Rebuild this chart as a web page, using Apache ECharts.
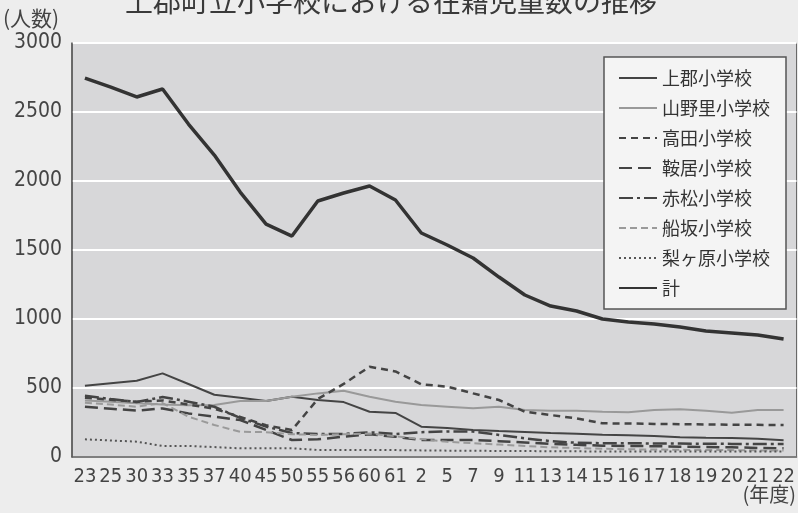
<!DOCTYPE html>
<html>
<head>
<meta charset="utf-8">
<script src="https://cdn.jsdelivr.net/npm/echarts@6/dist/echarts.min.js"></script>
<style>
  html, body { margin: 0; padding: 0; background: #ededed; }
  #chart { width: 798px; height: 513px; }
</style>
</head>
<body>
<div id="chart"></div>
<script>
const years = ['23','25','30','33','35','37','40','45','50','55','56','60','61','2','5','7','9','11','13','14','15','16','17','18','19','20','21','22']
const yTicks = [0, 500, 1000, 1500, 2000, 2500, 3000]

const kamigori = [516,535,553,606,529,451,430,406,437,413,398,328,319,220,210,196,188,181,174,169,162,157,152,143,140,138,133,121]
const yamanosato = [410,400,390,380,375,377,406,406,437,461,480,437,401,377,365,353,364,341,336,336,328,324,341,346,336,321,341,341]
const takada = [430,415,400,410,380,350,290,230,195,420,530,654,620,527,510,461,413,328,304,280,244,243,240,238,236,234,233,232]
const kurai = [364,350,336,352,316,292,268,196,123,128,147,164,147,123,123,123,115,105,95,88,82,80,78,75,72,70,66,63]
const akamatsu = [444,420,398,435,401,364,283,220,174,167,167,179,167,180,185,185,160,135,115,103,100,100,98,97,96,95,94,94]
const funasaka = [393,380,364,391,292,232,183,180,165,160,165,170,150,130,110,100,90,80,70,65,60,56,54,52,50,50,48,47]
const nashigahara = [128,120,111,80,80,72,63,63,63,51,51,51,50,48,46,45,44,43,42,41,40,40,40,40,40,39,39,39]
const total = [2746,2680,2609,2667,2413,2188,1920,1688,1601,1855,1913,1964,1862,1623,1536,1442,1304,1174,1094,1058,1000,978,964,942,913,899,884,855]

const narrow = "'Liberation Sans Narrow', 'DejaVu Sans Condensed', 'Noto Sans', sans-serif"
const jp = "'Noto Sans CJK JP', sans-serif"

const chart = echarts.init(document.getElementById('chart'))

// one helper for every school line
const makeLine = (name, data, color, width, type) => ({
  name,
  data,
  type: 'line',
  symbol: 'none',
  z: name === '計' ? 5 : 3,
  lineStyle: { color, width, type },
  itemStyle: { color },
})

const option = {
  backgroundColor: '#ededed',
  animation: false,
  title: {
    text: '上郡町立小学校における在籍児童数の推移',
    left: 120,
    top: -18,
    textStyle: { color: '#3a3a3a', fontSize: 28, fontWeight: 'normal', fontFamily: jp },
  },
  graphic: [
    {
      type: 'text',
      left: 3,
      top: 8,
      style: { text: '(人数)', fill: '#444', font: '21px ' + jp },
    },
    {
      type: 'text',
      right: 2,
      top: 484,
      style: { text: '(年度)', fill: '#444', font: '20px ' + jp },
    },
  ],
  legend: {
    orient: 'vertical',
    left: 604,
    top: 57,
    itemWidth: 38,
    itemHeight: 14,
    itemGap: 12,
    padding: [12, 16, 12, 14],
    backgroundColor: '#f4f4f4',
    borderColor: '#555',
    borderWidth: 1.5,
    itemStyle: { color: 'rgba(0,0,0,0)', borderWidth: 0, opacity: 0 },
    textStyle: { color: '#333', fontSize: 18, fontFamily: jp },
    data: ['上郡小学校', '山野里小学校', '高田小学校', '鞍居小学校', '赤松小学校', '船坂小学校', '梨ヶ原小学校', '計'],
  },
  grid: {
    left: 72,
    right: 0,
    top: 43,
    bottom: 56,
    show: true,
    backgroundColor: '#d7d7d9',
    borderColor: '#666',
    borderWidth: 1,
  },
  xAxis: {
    type: 'category',
    data: years,
    boundaryGap: true,
    axisLine: { lineStyle: { color: '#555', width: 1.5 } },
    axisTick: { inside: true, length: 7, lineStyle: { color: '#555' } },
    axisLabel: { color: '#444', fontSize: 20, fontFamily: narrow, margin: 10, interval: 0 },
  },
  yAxis: {
    type: 'value',
    min: yTicks[0],
    max: yTicks[yTicks.length - 1],
    interval: 500,
    axisLine: { show: true, lineStyle: { color: '#555', width: 1.5 } },
    axisTick: { show: false },
    axisLabel: { color: '#444', fontSize: 21, fontFamily: narrow, margin: 10, formatter: (v) => String(v) },
    splitLine: { lineStyle: { color: '#ffffff', width: 2 } },
  },
  series: [
    makeLine('上郡小学校', kamigori, '#444', 2, 'solid'),
    makeLine('山野里小学校', yamanosato, '#999', 2, 'solid'),
    makeLine('高田小学校', takada, '#444', 2.5, [7, 5]),
    makeLine('鞍居小学校', kurai, '#444', 2.5, [13, 6]),
    makeLine('赤松小学校', akamatsu, '#444', 2.5, [14, 4, 3, 4]),
    makeLine('船坂小学校', funasaka, '#9a9a9a', 2, [7, 4]),
    makeLine('梨ヶ原小学校', nashigahara, '#555', 2, [2, 3]),
    makeLine('計', total, '#333', 3.5, 'solid'),
  ],
}

chart.setOption(option)
</script>
</body>
</html>
